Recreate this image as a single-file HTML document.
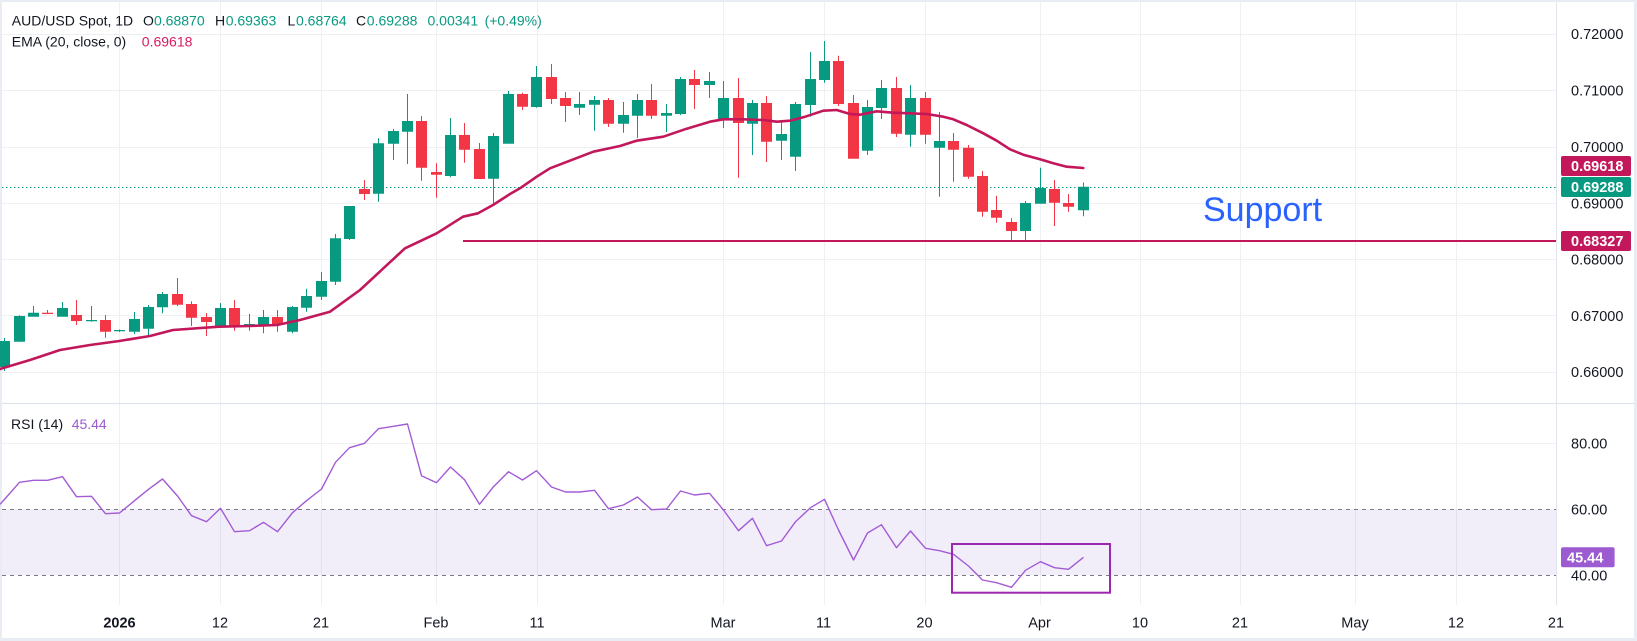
<!DOCTYPE html>
<html><head><meta charset="utf-8">
<style>
html,body{margin:0;padding:0;background:#e9ecf2;}
svg{display:block;font-family:"Liberation Sans",sans-serif;}
</style></head>
<body>
<svg width="1637" height="641" viewBox="0 0 1637 641" xmlns="http://www.w3.org/2000/svg">
<rect x="0" y="0" width="1637" height="641" fill="#e9ecf2"/>
<rect x="2" y="2" width="1632" height="636" fill="#ffffff"/>
<g stroke="#eef0f4" stroke-width="1">
<line x1="2" y1="34.5" x2="1556" y2="34.5"/>
<line x1="2" y1="90.5" x2="1556" y2="90.5"/>
<line x1="2" y1="147.5" x2="1556" y2="147.5"/>
<line x1="2" y1="203.5" x2="1556" y2="203.5"/>
<line x1="2" y1="259.5" x2="1556" y2="259.5"/>
<line x1="2" y1="315.5" x2="1556" y2="315.5"/>
<line x1="2" y1="372.5" x2="1556" y2="372.5"/>
<line x1="2" y1="443.5" x2="1556" y2="443.5"/>
<line x1="119.5" y1="2" x2="119.5" y2="605"/>
<line x1="220.5" y1="2" x2="220.5" y2="605"/>
<line x1="321.5" y1="2" x2="321.5" y2="605"/>
<line x1="436.5" y1="2" x2="436.5" y2="605"/>
<line x1="537.5" y1="2" x2="537.5" y2="605"/>
<line x1="723.5" y1="2" x2="723.5" y2="605"/>
<line x1="824.5" y1="2" x2="824.5" y2="605"/>
<line x1="925.5" y1="2" x2="925.5" y2="605"/>
<line x1="1040.5" y1="2" x2="1040.5" y2="605"/>
<line x1="1140.5" y1="2" x2="1140.5" y2="605"/>
<line x1="1240.5" y1="2" x2="1240.5" y2="605"/>
<line x1="1355.5" y1="2" x2="1355.5" y2="605"/>
<line x1="1456.5" y1="2" x2="1456.5" y2="605"/>
</g>
<line x1="1556.5" y1="2" x2="1556.5" y2="605" stroke="#e0e3eb" stroke-width="1"/>
<line x1="2" y1="403.5" x2="1634" y2="403.5" stroke="#e0e3eb" stroke-width="1.2"/>
<line x1="2" y1="187.5" x2="1556" y2="187.5" stroke="#089981" stroke-width="1" stroke-dasharray="1.5 2.5"/>
<path fill="#089981" d="M-1 341h11V367h-11Z M4 338h1V371h-1Z M14 316h11V341.7h-11Z M19 315.3h1V341.7h-1Z M28 312.7h11V316.7h-11Z M33 306h1V316.7h-1Z M57 308h11V316.7h-11Z M62 302h1V316.7h-1Z M86 320h11V321.2h-11Z M91 306h1V321.7h-1Z M114 330h11V331.2h-11Z M119 329.5h1V332h-1Z M129 319h11V331.7h-11Z M134 312h1V334h-1Z M143 307h11V328.7h-11Z M148 305h1V335.3h-1Z M157 294h11V307.3h-11Z M162 292h1V313.3h-1Z M215 308h11V326.7h-11Z M220 303h1V326.7h-1Z M244 324h11V326h-11Z M249 314h1V330.7h-1Z M258 317h11V325h-11Z M263 310h1V333.3h-1Z M287 307h11V331.7h-11Z M292 306h1V333.3h-1Z M301 296h11V307.7h-11Z M306 288.7h1V311.7h-1Z M316 281h11V296.7h-11Z M321 272h1V300h-1Z M330 238.3h11V281.7h-11Z M335 234h1V285h-1Z M344 206h11V239h-11Z M349 206h1V240h-1Z M373 143.3h11V193.7h-11Z M378 138.3h1V201.7h-1Z M388 131h11V143.7h-11Z M393 129h1V160h-1Z M402 121h11V131.7h-11Z M407 94h1V164h-1Z M445 135h11V176h-11Z M450 118h1V177.3h-1Z M488 136h11V178.7h-11Z M493 133h1V205.7h-1Z M503 94h11V143.7h-11Z M508 91h1V143.7h-1Z M531 77h11V107h-11Z M536 66h1V107.7h-1Z M574 104h11V107.7h-11Z M579 92h1V115h-1Z M589 100h11V104.7h-11Z M594 96h1V130.7h-1Z M618 115h11V123.7h-11Z M623 102h1V132.7h-1Z M632 100h11V115.7h-11Z M637 94h1V138h-1Z M661 113h11V115.7h-11Z M666 104h1V132h-1Z M675 79h11V114h-11Z M680 77h1V115h-1Z M704 81h11V85h-11Z M709 72h1V98h-1Z M718 98h11V119h-11Z M723 81h1V128h-1Z M747 103h11V123.7h-11Z M752 100h1V155h-1Z M776 134h11V140.7h-11Z M781 120h1V160h-1Z M790 104h11V156.7h-11Z M795 102h1V171h-1Z M805 79h11V105h-11Z M810 52h1V116.7h-1Z M819 61h11V80h-11Z M824 41h1V82.7h-1Z M862 107h11V150.7h-11Z M867 100h1V155h-1Z M876 88h11V108h-11Z M881 80h1V119h-1Z M905 98h11V134.7h-11Z M910 85h1V146.7h-1Z M934 141h11V147.7h-11Z M939 112h1V196.7h-1Z M1020 203h11V231h-11Z M1025 201h1V240.7h-1Z M1035 188h11V203.7h-11Z M1040 167.7h1V203.7h-1Z M1078 186.8h11V210.3h-11Z M1083 182.5h1V216.3h-1Z"/>
<path fill="#f23645" d="M42 312.7h11V314h-11Z M47 310h1V314h-1Z M71 315h11V321h-11Z M76 300h1V325h-1Z M100 320h11V331.7h-11Z M105 315h1V337.7h-1Z M172 294h11V304.7h-11Z M177 278h1V306h-1Z M186 304h11V317.7h-11Z M191 301.3h1V326h-1Z M201 317h11V322h-11Z M206 313h1V336h-1Z M229 308h11V326.7h-11Z M234 300h1V330.7h-1Z M272 317h11V325h-11Z M277 310h1V331.7h-1Z M359 189h11V194h-11Z M364 180h1V200h-1Z M416 121h11V167.7h-11Z M421 116h1V180.7h-1Z M431 172h11V174.7h-11Z M436 163.3h1V197.7h-1Z M459 135h11V149.7h-11Z M464 123h1V162.7h-1Z M474 149h11V179h-11Z M479 143h1V179h-1Z M517 94h11V106.7h-11Z M522 92.7h1V110h-1Z M546 77h11V99h-11Z M551 64h1V104h-1Z M560 98h11V106h-11Z M565 92h1V122h-1Z M603 100h11V123.7h-11Z M608 98h1V127h-1Z M646 100h11V115.7h-11Z M651 84h1V119h-1Z M689 79h11V85h-11Z M694 70h1V109h-1Z M733 98h11V123h-11Z M738 78h1V177.7h-1Z M761 103h11V141.7h-11Z M766 96h1V162h-1Z M833 61h11V104h-11Z M838 55.7h1V106h-1Z M848 103h11V158.7h-11Z M853 95h1V158.7h-1Z M891 88h11V133.7h-11Z M896 77h1V137h-1Z M920 98h11V134.7h-11Z M925 92h1V143.7h-1Z M948 141h11V149.7h-11Z M953 133h1V181.7h-1Z M963 147.7h11V176.7h-11Z M968 145h1V178.7h-1Z M977 176h11V211.7h-11Z M982 171h1V216.7h-1Z M991 210h11V217.7h-11Z M996 195.7h1V222.7h-1Z M1006 222h11V231h-11Z M1011 218.3h1V240.7h-1Z M1049 189h11V202.7h-11Z M1054 180h1V226h-1Z M1063 203h11V206.7h-11Z M1068 194h1V211.7h-1Z"/>
<polyline fill="none" stroke="#c2185b" stroke-width="2.6" stroke-linejoin="round" stroke-linecap="round" points="0,369 30,360 60,350 90,345 119.3,341 150,336 173,330 219,326.7 250,326 277,325 300,320 330,311.7 360,290 405,248.3 436.7,233.3 463,216.7 478,213.3 493,205 510,194 520,188.3 536.7,176.7 550,168.3 593.3,151.7 620,146 636.7,140.7 663.3,136.7 686.7,128.7 710,121.7 723.3,119.3 743.3,119.3 763.3,120 776.7,121.7 790,120.7 803.3,117.3 823.3,110.7 836.7,110 850,114 860,114.7 876.7,111.3 893.3,112.7 910,113.3 926.7,114 943.3,116.7 953.3,119.3 966.7,125 983.3,133.3 996.7,140.7 1010,149.3 1023.3,154.7 1040,159.3 1053.3,163.3 1066.7,166.7 1083.3,168"/>
<line x1="463" y1="241" x2="1556" y2="241" stroke="#c2185b" stroke-width="2"/>
<text x="1203" y="221" font-size="34" fill="#2962ff">Support</text>
<rect x="2" y="509.3" width="1554" height="66" fill="#7e57c2" fill-opacity="0.1"/>
<line x1="2" y1="509.5" x2="1556" y2="509.5" stroke="#787b86" stroke-width="1" stroke-dasharray="4 4"/>
<line x1="2" y1="575.5" x2="1556" y2="575.5" stroke="#787b86" stroke-width="1" stroke-dasharray="4 4"/>
<polyline fill="none" stroke="#a35bd6" stroke-width="1.4" stroke-linejoin="round" points="0,504.3 4.8,499 19.5,482.3 33.5,480.3 47.5,480.3 62.5,476.7 76.5,496.7 91.5,496.3 105.5,513.7 119.5,513 134.5,500.7 148.5,489.3 162.5,479 177.5,496 191.5,515.7 206.5,521.7 220.5,508.3 234.5,531.7 249.5,530.7 263.5,522.3 277.5,531.7 292.5,512.7 306.5,500.7 321.5,489 335.5,462.3 349.5,447.7 364.5,443.3 378.5,428.7 393.5,426.3 407.5,424 421.5,475.7 436.5,482.7 450.5,467 464.5,479.7 479.5,504.3 493.5,486.7 508.5,471.7 522.5,480 536.5,470.7 551.5,487 565.5,492 579.5,492 594.5,490.3 608.5,508.7 623.5,505 637.5,497 651.5,509.7 666.5,509 680.5,491 694.5,495 709.5,493.3 723.5,510 738.5,530.7 752.5,518.3 766.5,545.7 781.5,541 795.5,521.7 810.5,507.7 824.5,499.3 838.5,530 853.5,560 867.5,533 881.5,524.7 896.5,547.7 910.5,531 925.5,548.3 939.5,550.7 953.5,554.3 968.5,566 982.5,580 996.5,582.7 1011.5,587.3 1025.5,570.3 1040.5,561.7 1054.5,567.7 1068.5,569.3 1083.5,557.3"/>
<rect x="952" y="544" width="158" height="48.7" fill="none" stroke="#9c27b0" stroke-width="2"/>
<g font-size="14" fill="#131722">
<text x="11.8" y="25.7">AUD/USD Spot, 1D</text>
<text x="143" y="25.7">O</text>
<text x="215" y="25.7">H</text>
<text x="287.5" y="25.7">L</text>
<text x="356" y="25.7">C</text>
<text x="11.8" y="46.7">EMA (20, close, 0)</text>
<text x="11" y="429">RSI (14)</text>
</g>
<g font-size="14" fill="#089981">
<text x="154" y="25.7">0.68870</text>
<text x="225.7" y="25.7">0.69363</text>
<text x="296" y="25.7">0.68764</text>
<text x="366.8" y="25.7">0.69288</text>
<text x="427.5" y="25.7">0.00341</text>
<text x="484.6" y="25.7">(+0.49%)</text>
</g>
<text x="141.8" y="46.7" font-size="14" fill="#d81b60">0.69618</text>
<text x="71.7" y="429" font-size="14" fill="#9c5bd0">45.44</text>
<g font-size="14.5" fill="#131722">
<text x="1571" y="39.2">0.72000</text>
<text x="1571" y="95.5">0.71000</text>
<text x="1571" y="152.2">0.70000</text>
<text x="1571" y="208.5">0.69000</text>
<text x="1571" y="264.5">0.68000</text>
<text x="1571" y="320.9">0.67000</text>
<text x="1571" y="377.2">0.66000</text>
<text x="1571" y="448.5">80.00</text>
<text x="1571" y="514.5">60.00</text>
<text x="1571" y="580.5">40.00</text>
</g>
<rect x="1561" y="156" width="70" height="20" rx="2" fill="#c2185b"/>
<rect x="1561" y="177" width="70" height="20" rx="2" fill="#089981"/>
<rect x="1561" y="231" width="70" height="20" rx="2" fill="#c2185b"/>
<rect x="1561" y="547.3" width="53.6" height="20" rx="2" fill="#9c5bd0"/>
<g font-size="14.5" fill="#ffffff" font-weight="bold">
<text x="1571" y="171.2">0.69618</text>
<text x="1571" y="192.2">0.69288</text>
<text x="1571" y="246.2">0.68327</text>
<text x="1567" y="562.5">45.44</text>
</g>
<g font-size="14.5" fill="#131722" text-anchor="middle">
<text x="119.5" y="627.5" font-weight="bold">2026</text>
<text x="220" y="627.5">12</text>
<text x="321" y="627.5">21</text>
<text x="436" y="627.5">Feb</text>
<text x="537" y="627.5">11</text>
<text x="723" y="627.5">Mar</text>
<text x="823.5" y="627.5">11</text>
<text x="924.5" y="627.5">20</text>
<text x="1039.5" y="627.5">Apr</text>
<text x="1140" y="627.5">10</text>
<text x="1240" y="627.5">21</text>
<text x="1355" y="627.5">May</text>
<text x="1456" y="627.5">12</text>
<text x="1556" y="627.5">21</text>
</g>
</svg>
</body></html>
